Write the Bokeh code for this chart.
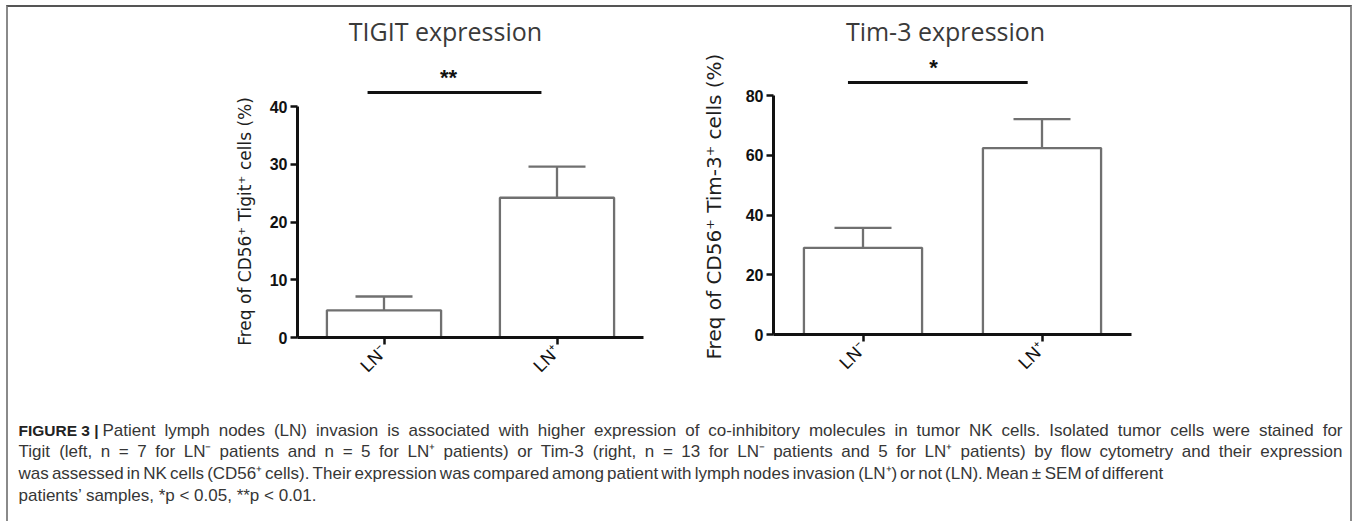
import math
from bokeh.plotting import figure
from bokeh.models import FactorRange, Range1d, FixedTicker, ColumnDataSource, Whisker, TeeHead
from bokeh.layouts import column, row
from bokeh.embed import file_html
from bokeh.resources import INLINE
from bokeh.core.properties import value

# ---------------- data ----------------
categories = ["LN⁻", "LN⁺"]

tigit_mean = [4.7, 24.2]
tigit_sem = [2.4, 5.4]
tigit_ticks = [0, 10, 20, 30, 40]
tigit_sig = "**"

tim3_mean = [29.0, 62.4]
tim3_sem = [6.7, 9.7]
tim3_ticks = [0, 20, 40, 60, 80]
tim3_sig = "*"

titles = ["TIGIT expression", "Tim-3 expression"]
ylabels = ["Freq of CD56⁺ Tigit⁺ cells (%)", "Freq of CD56⁺ Tim-3⁺ cells (%)"]

caption_bold = "FIGURE 3 |"
caption_lines = [
    "Patient lymph nodes (LN) invasion is associated with higher expression of co-inhibitory molecules in tumor NK cells. Isolated tumor cells were stained for",
    "Tigit (left, n = 7 for LN⁻ patients and n = 5 for LN⁺ patients) or Tim-3 (right, n = 13 for LN⁻ patients and 5 for LN⁺ patients) by flow cytometry and their expression",
    "was assessed in NK cells (CD56⁺ cells). Their expression was compared among patient with lymph nodes invasion (LN⁺) or not (LN). Mean ± SEM of different",
    "patients’ samples, *p < 0.05, **p < 0.01.",
]

SANS = "Liberation Sans"
LABEL_FONT = "DejaVu Sans"
TITLE_FONT = "Open Sans"
BAR_GREY = "#707070"
ROW_TOP = 7          # page y of the chart row
ROW_H = 380
BASE_SHIFT = 0.43    # empirical shift of the alphabetic baseline in the svg output (em)


def base_fig(width, height, xr, yr):
    f = figure(width=width, height=height, x_range=xr, y_range=yr,
               output_backend="svg", toolbar_location=None,
               x_axis_location=None, y_axis_location=None,
               min_border_left=0, min_border_right=0, min_border_top=0, min_border_bottom=0,
               background_fill_color="white", border_fill_color="white",
               frame_align=False)
    f.outline_line_color = None
    f.grid.visible = False
    return f


def label_fig(x_left, x_right, text, cx, cy, size):
    f = base_fig(x_right - x_left, ROW_H, Range1d(x_left, x_right), Range1d(0, ROW_H))
    f.text(x=[cx], y=[ROW_TOP + ROW_H - cy], text=[text], angle=math.pi / 2,
           text_align="center", text_baseline="middle", text_font=value(LABEL_FONT),
           text_font_size=size, text_color="#1e1e1e")
    return f


def panel(means, sems, ticks, sig, title, *, width, min_left, min_right, frame_bottom,
          tick_top_px, title_x, star_x, sig_x0, sig_x1, sig_y_px, star_y_px, cap_px):
    frame_top = 12
    ppu = (frame_bottom - tick_top_px) / ticks[-1]
    y_end = (frame_bottom - frame_top) / ppu

    def yd(py):
        return (frame_bottom - py) / ppu

    p = figure(width=width, height=ROW_H,
               x_range=FactorRange(factors=categories),
               y_range=Range1d(0, y_end),
               output_backend="svg", toolbar_location=None,
               min_border_left=min_left, min_border_right=min_right,
               min_border_top=frame_top - ROW_TOP,
               min_border_bottom=ROW_TOP + ROW_H - frame_bottom,
               background_fill_color="white", border_fill_color="white",
               frame_align=False)
    p.outline_line_color = None
    p.xgrid.visible = False
    p.ygrid.visible = False

    upper = [m + s for m, s in zip(means, sems)]
    lower = [m - s for m, s in zip(means, sems)]
    src = ColumnDataSource(dict(x=categories, top=means, upper=upper, lower=lower))

    p.vbar(x="x", top="top", bottom=0, width=0.66, source=src,
           fill_color="white", line_color=BAR_GREY, line_width=2.3)

    w = Whisker(base="x", upper="upper", lower="lower", source=src,
                line_color=BAR_GREY, line_width=2.3,
                upper_head=TeeHead(size=cap_px, line_color=BAR_GREY, line_width=2.3),
                lower_head=TeeHead(size=cap_px, line_color=BAR_GREY, line_width=2.3))
    p.add_layout(w)

    # significance bar
    p.segment(x0=[sig_x0], y0=[yd(sig_y_px)], x1=[sig_x1], y1=[yd(sig_y_px)],
              line_color="#111111", line_width=3)
    p.text(x=[star_x], y=[yd(star_y_px - BASE_SHIFT * 22)], text=[sig], text_align="center",
           text_baseline="alphabetic", text_font=value(SANS),
           text_font_style="bold", text_font_size="22px", text_color="#111111")
    # title
    p.text(x=[title_x], y=[yd(41 - BASE_SHIFT * 25)], text=[title], text_align="center",
           text_baseline="alphabetic", text_font=value(TITLE_FONT),
           text_font_size="25px", text_color="#3a3a3a")

    for ax in (p.xaxis[0], p.yaxis[0]):
        ax.axis_line_width = 3
        ax.axis_line_color = "#111111"
        ax.major_tick_line_width = 2.5
        ax.major_tick_line_color = "#111111"
        ax.major_tick_out = 7
        ax.major_tick_in = 0
        ax.minor_tick_line_color = None

    p.yaxis.bounds = (0, ticks[-1])
    p.yaxis.ticker = FixedTicker(ticks=ticks, minor_ticks=[])
    p.yaxis.major_label_text_font = SANS
    p.yaxis.major_label_text_font_style = "bold"
    p.yaxis.major_label_text_font_size = "16px"
    p.yaxis.major_label_text_color = "#111111"
    p.yaxis.major_label_standoff = 3

    p.xaxis.major_label_orientation = math.pi / 4
    p.xaxis.major_label_text_font = SANS
    p.xaxis.major_label_text_font_size = "18px"
    p.xaxis.major_label_text_color = "#111111"
    p.xaxis.major_label_standoff = 4
    return p


# page layout: content starts at x=8 ; lab1 8..262 | p1 262..690 | lab2 690..735 | p2 735..1350
lab1 = label_fig(8, 262, ylabels[0], 244, 221, "17px")
p1 = panel(tigit_mean, tigit_sem, tigit_ticks, tigit_sig, titles[0],
           width=428, min_left=35, min_right=47, frame_bottom=337, tick_top_px=106,
           title_x=0.855, star_x=0.873, sig_x0=0.405, sig_x1=1.41,
           sig_y_px=92, star_y_px=86, cap_px=57)
lab2 = label_fig(690, 735, ylabels[1], 713, 206, "20px")
p2 = panel(tim3_mean, tim3_sem, tim3_ticks, tim3_sig, titles[1],
           width=615, min_left=38, min_right=219, frame_bottom=334, tick_top_px=95,
           title_x=0.961, star_x=0.894, sig_x0=0.416, sig_x1=1.42,
           sig_y_px=82, star_y_px=76, cap_px=57)

# ---------------- caption ----------------
# Arial / Liberation Sans advance widths (1/1000 em) used to justify the caption lines
ADV = {" ": 278, "(": 333, ")": 333, ",": 278, ".": 278, "-": 333, "*": 389, "<": 584,
       "=": 584, "±": 584, "’": 222, "⁺": 333, "⁻": 333, "|": 260}
ADV.update({d: 556 for d in "0123456789"})
ADV.update(dict(zip("ABCDEFGHIJKLMNOPQRSTUVWXYZ",
                    [667, 667, 722, 722, 667, 611, 778, 722, 278, 500, 667, 556, 833,
                     722, 778, 667, 778, 722, 667, 611, 722, 667, 944, 667, 667, 611])))
ADV.update(dict(zip("abcdefghijklmnopqrstuvwxyz",
                    [556, 556, 500, 556, 556, 278, 556, 556, 222, 222, 500, 222, 833,
                     556, 556, 556, 556, 333, 500, 278, 556, 500, 722, 500, 500, 500])))


def width_of(s, size):
    return sum(ADV.get(c, 556) for c in s) * size / 1000.0


CAP_SIZE = 17
CAP_TOP = ROW_TOP + ROW_H
CAP_H = 134
cap = base_fig(1342, CAP_H, Range1d(8, 1350), Range1d(0, CAP_H))


def cy(py):
    return CAP_TOP + CAP_H - (py - BASE_SHIFT * CAP_SIZE)


baselines = [437, 458, 480, 502]
starts = [102, 18, 18, 18]
justify_to = [1342, 1342, 1163, None]

cap.text(x=[18], y=[cy(baselines[0])], text=[caption_bold], text_font=value(SANS),
         text_font_style="bold", text_font_size="15.5px", text_baseline="alphabetic",
         text_color="#222222")

wx, wy, wt = [], [], []
for line, base, x0, x1 in zip(caption_lines, baselines, starts, justify_to):
    if x1 is None:
        wx.append(x0)
        wy.append(cy(base))
        wt.append(line)
        continue
    words = line.split(" ")
    widths = [width_of(wd, CAP_SIZE) for wd in words]
    gap = (x1 - x0 - sum(widths)) / (len(words) - 1)
    x = x0
    for wd, wdt in zip(words, widths):
        wx.append(x)
        wy.append(cy(base))
        wt.append(wd)
        x += wdt + gap

cap.text(x=wx, y=wy, text=wt, text_font=value(SANS), text_font_size=f"{CAP_SIZE}px",
         text_baseline="alphabetic", text_color="#363636")

root = column(row(lab1, p1, lab2, p2), cap,
              styles={"margin-top": "5px", "margin-left": "6px",
                      "border-top": "2px solid #555555",
                      "border-left": "2px solid #8a8a8a",
                      "border-right": "2px solid #8a8a8a"})

open("out.html", "w").write(file_html(root, INLINE))
